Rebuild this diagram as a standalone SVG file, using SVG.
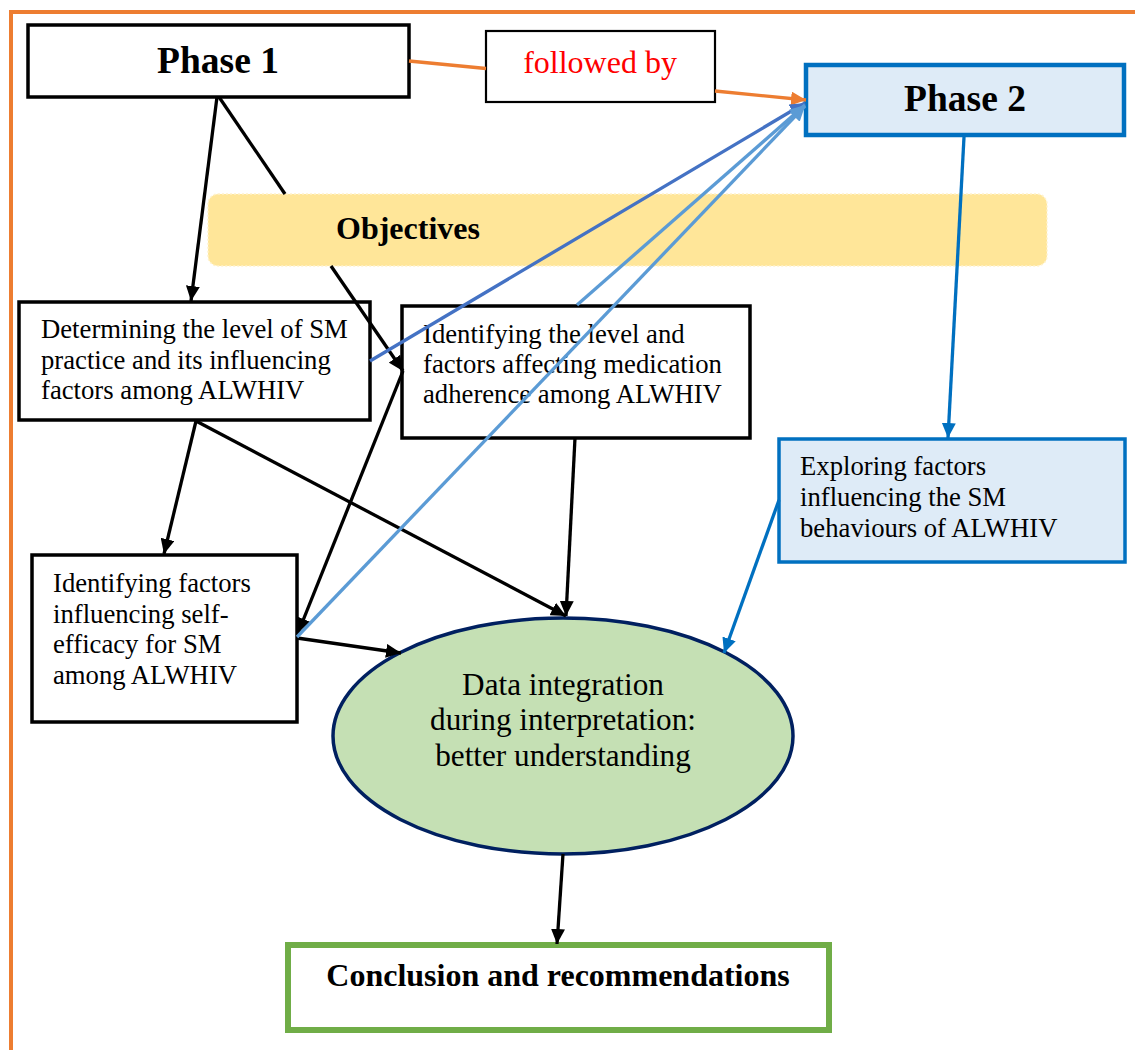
<svg xmlns="http://www.w3.org/2000/svg" width="1135" height="1050" viewBox="0 0 1135 1050">
<defs>
<style>
text{font-family:"Liberation Serif","Times New Roman",serif;fill:#000}
.t{font-size:26.7px}
.b{font-weight:bold}
.box{fill:#fff;stroke:#000;stroke-width:3.5}
.k{stroke:#000;stroke-width:3.3;fill:none}
</style>
<marker id="ak" markerUnits="userSpaceOnUse" markerWidth="16" markerHeight="14" refX="15" refY="7" orient="auto"><path d="M0,0 L15,7 L0,14 z" fill="#000"/></marker>
<marker id="ao" markerUnits="userSpaceOnUse" markerWidth="16" markerHeight="14" refX="15" refY="7" orient="auto"><path d="M0,0 L15,7 L0,14 z" fill="#ED7D31"/></marker>
<marker id="adb" markerUnits="userSpaceOnUse" markerWidth="16" markerHeight="14" refX="15" refY="7" orient="auto"><path d="M0,0 L15,7 L0,14 z" fill="#4472C4"/></marker>
<marker id="alb" markerUnits="userSpaceOnUse" markerWidth="16" markerHeight="14" refX="15" refY="7" orient="auto"><path d="M0,0 L15,7 L0,14 z" fill="#5B9BD5"/></marker>
<marker id="ab" markerUnits="userSpaceOnUse" markerWidth="16" markerHeight="14" refX="15" refY="7" orient="auto"><path d="M0,0 L15,7 L0,14 z" fill="#0070C0"/></marker>
</defs>
<rect width="1135" height="1050" fill="#fff"/>
<path d="M11,1050 L11,12 L1135,12" fill="none" stroke="#ED7D31" stroke-width="4"/>

<g id="phase1"><rect class="box" x="28" y="25" width="381" height="72"/><text class="b" x="218" y="73" font-size="37.5" text-anchor="middle">Phase 1</text></g>
<g id="followed-by"><rect x="486" y="31" width="229" height="71" fill="#fff" stroke="#000" stroke-width="2.2"/><text x="600" y="73" font-size="32" text-anchor="middle" style="fill:#FF0000">followed by</text></g>
<g id="phase2"><rect x="806" y="65" width="318" height="70" fill="#DEEBF7" stroke="#0070C0" stroke-width="4.5"/><text class="b" x="965" y="111" font-size="37.5" text-anchor="middle">Phase 2</text></g>
<g id="objectives"><rect x="208" y="194" width="839" height="72" rx="10" fill="#FFE699" stroke="#FFF2CC" stroke-width="1.5" stroke-dasharray="2,2"/><text class="b" x="408" y="239" font-size="32" text-anchor="middle">Objectives</text></g>
<g id="determining"><rect class="box" x="19" y="302" width="351" height="118"/><text class="t" x="41"><tspan x="41" y="338">Determining the level of SM</tspan><tspan x="41" y="369">practice and its influencing</tspan><tspan x="41" y="399">factors among ALWHIV</tspan></text></g>
<g id="adherence"><rect class="box" x="402" y="306" width="348" height="132"/><text class="t"><tspan x="423" y="343">Identifying the level and</tspan><tspan x="423" y="373">factors affecting medication</tspan><tspan x="423" y="403">adherence among ALWHIV</tspan></text></g>
<g id="self-efficacy"><rect class="box" x="32" y="555" width="265" height="167"/><text class="t"><tspan x="53" y="592">Identifying factors</tspan><tspan x="53" y="623">influencing self-</tspan><tspan x="53" y="653">efficacy for SM</tspan><tspan x="53" y="684">among ALWHIV</tspan></text></g>
<g id="exploring"><rect x="779" y="439" width="346" height="123" fill="#DEEBF7" stroke="#0070C0" stroke-width="3.5"/><text class="t"><tspan x="800" y="475">Exploring factors</tspan><tspan x="800" y="506">influencing the SM</tspan><tspan x="800" y="537">behaviours of ALWHIV</tspan></text></g>
<g id="integration"><ellipse cx="563" cy="736" rx="230" ry="118" fill="#C5E0B4" stroke="#002060" stroke-width="3.5"/><text font-size="31.2" text-anchor="middle"><tspan x="563" y="695">Data integration</tspan><tspan x="563" y="730">during interpretation:</tspan><tspan x="563" y="766">better understanding</tspan></text></g>
<g id="conclusion"><rect x="288" y="945" width="541" height="85" fill="#fff" stroke="#70AD47" stroke-width="6"/><text class="b" x="558" y="986" font-size="32" text-anchor="middle">Conclusion and recommendations</text></g>

<g id="connectors">
<line x1="409" y1="61" x2="486" y2="68.5" stroke="#ED7D31" stroke-width="3.3"/>
<line x1="715" y1="91" x2="806" y2="100" stroke="#ED7D31" stroke-width="3.3" marker-end="url(#ao)"/>
<line class="k" x1="217" y1="97" x2="191" y2="301" marker-end="url(#ak)"/>
<line class="k" x1="219" y1="97" x2="285" y2="194"/>
<line class="k" x1="331" y1="266" x2="403" y2="371" marker-end="url(#ak)"/>
<line class="k" x1="196" y1="421" x2="164" y2="554" marker-end="url(#ak)"/>
<line class="k" x1="196" y1="421" x2="566" y2="616" marker-end="url(#ak)"/>
<line class="k" x1="575" y1="438" x2="566" y2="616" marker-end="url(#ak)"/>
<line class="k" x1="403" y1="371" x2="298" y2="633" marker-end="url(#ak)"/>
<line class="k" x1="297" y1="638" x2="401" y2="653" marker-end="url(#ak)"/>
<line class="k" x1="563" y1="854" x2="557" y2="944" marker-end="url(#ak)"/>
<line x1="370" y1="361" x2="805" y2="103" stroke="#4472C4" stroke-width="3.3" marker-end="url(#adb)"/>
<line x1="577" y1="305" x2="805" y2="105" stroke="#5B9BD5" stroke-width="3.3" marker-end="url(#alb)"/>
<line x1="297" y1="637" x2="805" y2="106" stroke="#5B9BD5" stroke-width="3.3" marker-end="url(#alb)"/>
<line x1="964" y1="137" x2="948" y2="438" stroke="#0070C0" stroke-width="3.3" marker-end="url(#ab)"/>
<line x1="779" y1="500" x2="724" y2="653" stroke="#0070C0" stroke-width="3.3" marker-end="url(#ab)"/>
</g>
</svg>
